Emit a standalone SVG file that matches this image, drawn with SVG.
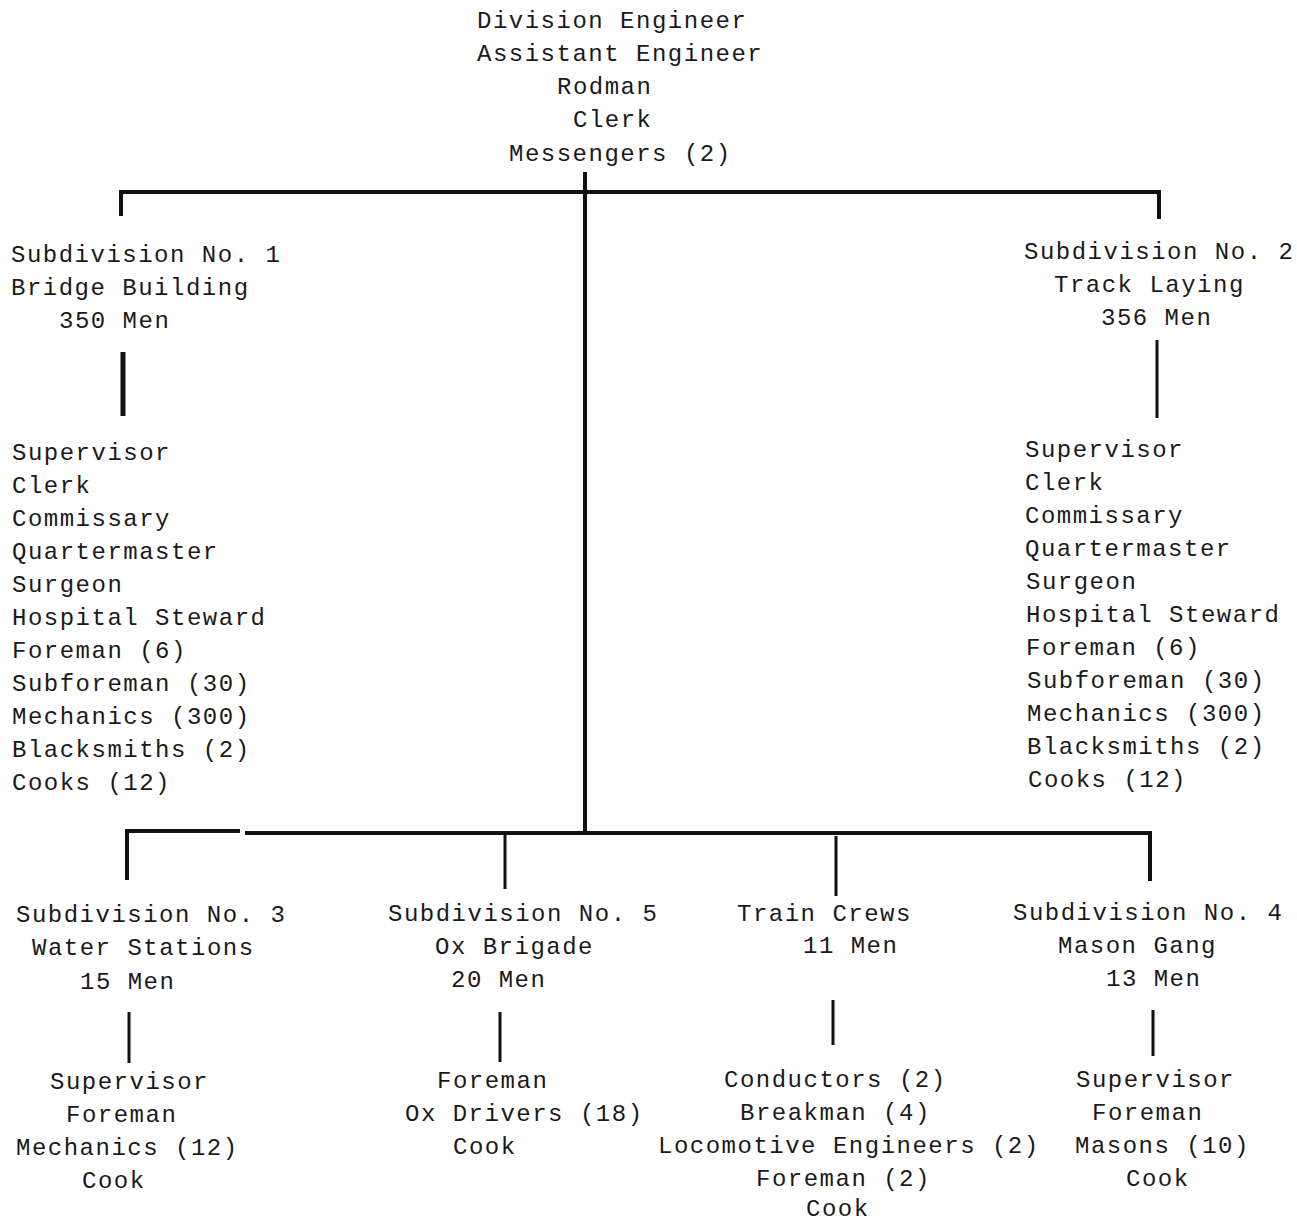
<svg xmlns="http://www.w3.org/2000/svg" width="1297" height="1223" viewBox="0 0 1297 1223">
<style>
text{font-family:"Liberation Mono","DejaVu Sans Mono",monospace;font-size:24px;letter-spacing:1.5px;fill:#1a1a1a}
.c{stroke:#111;stroke-width:4;fill:none;stroke-linecap:butt;stroke-linejoin:miter}
.t{stroke-width:3}
</style>
<rect width="1297" height="1223" fill="#fff"/>
<g id="connectors">
<path class="c" d="M121,216 V192 H1159 V219"/>
<path class="c" d="M585,172 V834"/>
<path class="c" d="M123,352 V416" style="stroke-width:5"/>
<path class="c t" d="M1157,340 V418"/>
<path class="c" d="M127,880 V831 H240"/>
<path class="c" d="M245,833 H1150 V881"/>
<path class="c t" d="M505,834 V889"/>
<path class="c t" d="M836,836 V896"/>
<path class="c t" d="M129,1012 V1063"/>
<path class="c t" d="M500,1012 V1062"/>
<path class="c t" d="M833,1000 V1045"/>
<path class="c t" d="M1153,1010 V1056"/>
</g>
<g id="division">
<text x="477" y="28">Division Engineer</text>
<text x="477" y="61">Assistant Engineer</text>
<text x="557" y="94">Rodman</text>
<text x="573" y="127">Clerk</text>
<text x="509" y="161">Messengers (2)</text>
</g>
<g id="sub1">
<text x="11" y="262">Subdivision No. 1</text>
<text x="11" y="295">Bridge Building</text>
<text x="59" y="328">350 Men</text>
</g>
<g id="sub1-staff">
<text x="12" y="460">Supervisor</text>
<text x="12" y="493">Clerk</text>
<text x="12" y="526">Commissary</text>
<text x="12" y="559">Quartermaster</text>
<text x="12" y="592">Surgeon</text>
<text x="12" y="625">Hospital Steward</text>
<text x="12" y="658">Foreman (6)</text>
<text x="12" y="691">Subforeman (30)</text>
<text x="12" y="724">Mechanics (300)</text>
<text x="12" y="757">Blacksmiths (2)</text>
<text x="12" y="790">Cooks  (12)</text>
</g>
<g id="sub2">
<text x="1024" y="259">Subdivision No. 2</text>
<text x="1054" y="292">Track Laying</text>
<text x="1101" y="325">356 Men</text>
</g>
<g id="sub2-staff">
<text x="1025" y="457">Supervisor</text>
<text x="1025" y="490">Clerk</text>
<text x="1025" y="523">Commissary</text>
<text x="1025" y="556">Quartermaster</text>
<text x="1026" y="589">Surgeon</text>
<text x="1026" y="622">Hospital Steward</text>
<text x="1026" y="655">Foreman (6)</text>
<text x="1027" y="688">Subforeman (30)</text>
<text x="1027" y="721">Mechanics (300)</text>
<text x="1027" y="754">Blacksmiths (2)</text>
<text x="1028" y="787">Cooks (12)</text>
</g>
<g id="sub3">
<text x="16" y="922">Subdivision No. 3</text>
<text x="32" y="955">Water Stations</text>
<text x="80" y="989">15 Men</text>
</g>
<g id="sub3-staff">
<text x="50" y="1089">Supervisor</text>
<text x="66" y="1122">Foreman</text>
<text x="16" y="1155">Mechanics (12)</text>
<text x="82" y="1188">Cook</text>
</g>
<g id="sub5">
<text x="388" y="921">Subdivision No. 5</text>
<text x="435" y="954">Ox Brigade</text>
<text x="451" y="987">20 Men</text>
</g>
<g id="sub5-staff">
<text x="437" y="1088">Foreman</text>
<text x="405" y="1121">Ox Drivers (18)</text>
<text x="453" y="1154">Cook</text>
</g>
<g id="train">
<text x="737" y="921">Train Crews</text>
<text x="803" y="953">11 Men</text>
</g>
<g id="train-staff">
<text x="724" y="1087">Conductors (2)</text>
<text x="740" y="1120">Breakman (4)</text>
<text x="658" y="1153">Locomotive Engineers (2)</text>
<text x="756" y="1186">Foreman (2)</text>
<text x="806" y="1216">Cook</text>
</g>
<g id="sub4">
<text x="1013" y="920">Subdivision No. 4</text>
<text x="1058" y="953">Mason Gang</text>
<text x="1106" y="986">13 Men</text>
</g>
<g id="sub4-staff">
<text x="1076" y="1087">Supervisor</text>
<text x="1092" y="1120">Foreman</text>
<text x="1075" y="1153">Masons (10)</text>
<text x="1126" y="1186">Cook</text>
</g>
</svg>
